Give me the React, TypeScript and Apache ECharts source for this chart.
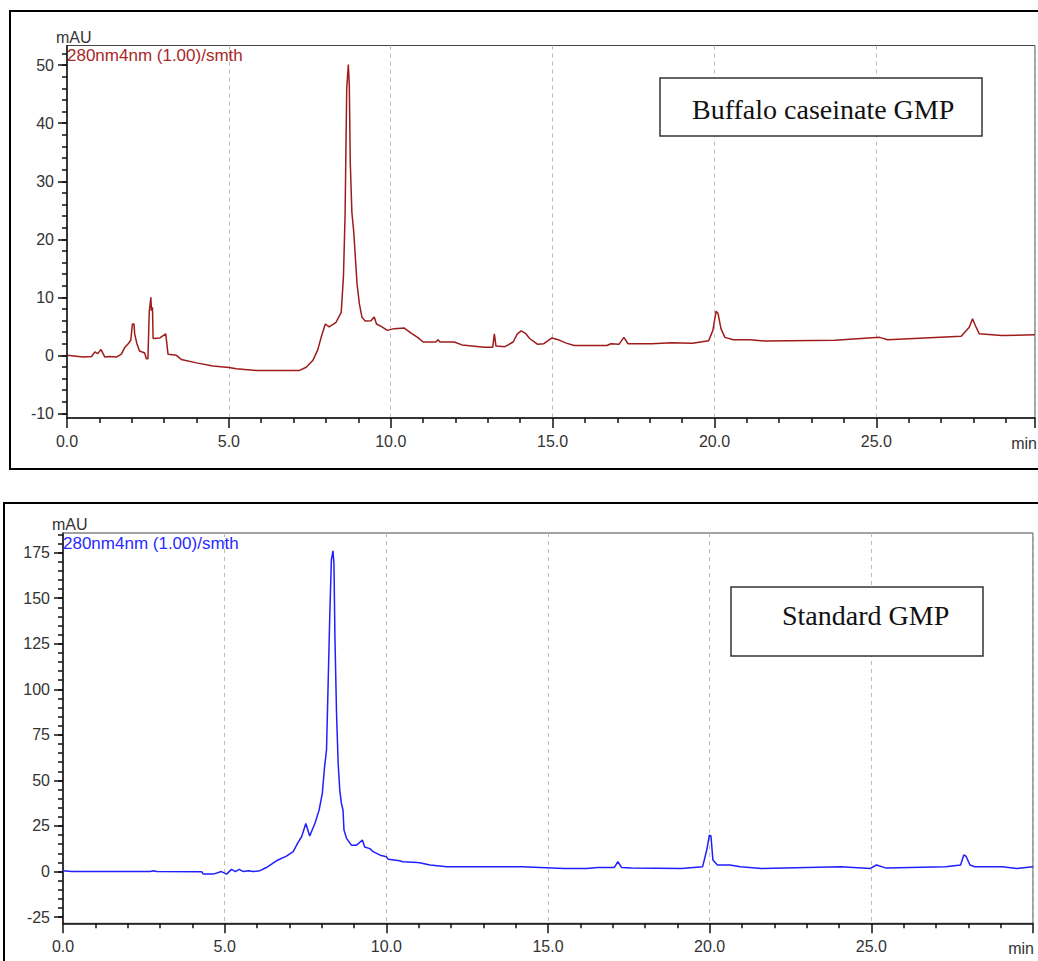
import React, { useEffect, useRef } from "react";
import * as echarts from "echarts";

// ---------- data ----------
const xTickLabels = ["0.0", "5.0", "10.0", "15.0", "20.0", "25.0"];

const caseinateYTicks = [-10, 0, 10, 20, 30, 40, 50];
const caseinateYMinor = [-10, -8, -6, -4, -2, 0, 2, 4, 6, 8, 10, 12, 14, 16, 18, 20, 22, 24, 26, 28, 30, 32, 34, 36, 38, 40, 42, 44, 46, 48, 50, 52];
const standardYTicks = [-25, 0, 25, 50, 75, 100, 125, 150, 175];
const standardYMinor = [-25, -20, -15, -10, -5, 0, 5, 10, 15, 20, 25, 30, 35, 40, 45, 50, 55, 60, 65, 70, 75, 80, 85, 90, 95, 100, 105, 110, 115, 120, 125, 130, 135, 140, 145, 150, 155, 160, 165, 170, 175, 180, 185];

const caseinateTime = [
  0, 0.5, 0.76, 0.86, 0.95, 1.05, 1.17, 1.3, 1.53, 1.68, 1.79, 1.89, 1.97, 2.02, 2.07, 2.09, 2.16, 2.24, 2.4, 2.45,
  2.5, 2.54, 2.59, 2.61, 2.64, 2.66, 2.87, 3.05, 3.12, 3.38, 3.53, 4.0, 4.51, 5.0, 5.23, 5.85, 7.18, 7.39, 7.59, 7.74,
  7.85, 7.98, 8.1, 8.31, 8.47, 8.54, 8.59, 8.64, 8.69, 8.72, 8.75, 8.8, 8.86, 8.91, 8.96, 9.03, 9.11, 9.21, 9.39, 9.49,
  9.56, 9.7, 9.9, 10.1, 10.42, 10.64, 10.83, 11.0, 11.39, 11.46, 11.52, 11.96, 12.2, 12.9, 13.15, 13.2, 13.25, 13.53, 13.78, 13.91,
  14.03, 14.16, 14.29, 14.54, 14.73, 14.98, 15.17, 15.42, 15.67, 16.68, 16.8, 17.05, 17.2, 17.33, 18.06, 18.67, 19.32, 19.82, 19.95, 20.05,
  20.11, 20.2, 20.32, 20.58, 21.1, 21.58, 23.72, 25.1, 25.35, 27.62, 27.87, 27.97, 28.06, 28.18, 28.87, 29.9,
];
const caseinateMAU = [
  0, -0.3, -0.2, 0.6, 0.3, 1.0, -0.3, -0.2, -0.3, 0.2, 1.4, 2.0, 2.6, 5.4, 5.4, 3.7, 2.0, 0.75, 0.4, -0.6,
  -0.6, 7.4, 10.0, 7.7, 8.3, 2.9, 3.0, 3.7, 0.2, 0.0, -0.7, -1.3, -1.85, -2.1, -2.3, -2.6, -2.6, -2.05, -0.9, 0.86,
  3.1, 5.4, 4.9, 5.7, 7.4, 13.7, 24.3, 46, 50.1, 46.6, 33.2, 24.6, 21.1, 16.6, 12.3, 8.9, 6.6, 5.9, 5.95, 6.6,
  5.4, 5.0, 4.3, 4.6, 4.7, 3.8, 3.1, 2.3, 2.3, 2.7, 2.3, 2.3, 1.8, 1.4, 1.4, 3.7, 1.6, 1.5, 2.3, 3.7,
  4.2, 3.8, 2.9, 1.9, 2.0, 3.0, 2.7, 2.1, 1.7, 1.7, 2.0, 1.9, 3.1, 2.0, 2.0, 2.15, 2.1, 2.5, 4.3, 7.6,
  7.2, 4.6, 3.1, 2.7, 2.7, 2.45, 2.6, 3.1, 2.7, 3.3, 4.85, 6.3, 5.1, 3.7, 3.4, 3.55,
];

const standardTime = [
  0, 0.27, 2.7, 2.79, 2.9, 4.29, 4.34, 4.65, 4.9, 5.06, 5.21, 5.33, 5.45, 5.58, 5.73, 5.88, 6.09, 6.29, 6.6, 6.91,
  7.12, 7.27, 7.38, 7.51, 7.63, 7.79, 7.92, 8.02, 8.09, 8.15, 8.2, 8.25, 8.3, 8.35, 8.38, 8.41, 8.46, 8.51, 8.56, 8.61,
  8.66, 8.69, 8.77, 8.92, 9.08, 9.26, 9.33, 9.49, 9.59, 9.81, 10.0, 10.06, 10.41, 10.51, 10.96, 11.03, 11.35, 11.87, 14.2, 15.5,
  16.2, 16.54, 17.05, 17.16, 17.28, 17.58, 19.13, 19.78, 19.91, 19.99, 20.04, 20.1, 20.24, 20.62, 20.95, 21.6, 24.06, 24.97, 25.16, 25.46,
  27.3, 27.76, 27.86, 27.93, 28.05, 28.2, 29.05, 29.5, 30.0,
];
const standardMAU = [
  0.4, 0, 0, 0.4, 0, -0.1, -1.4, -1.4, 0, -1.4, 1.2, 0, 1.2, 0, 0.4, 0, 0.5, 2.2, 5.9, 8.5,
  10.9, 16, 19.1, 26.4, 19.5, 26.4, 33.7, 42.9, 57.5, 66.7, 103, 139.8, 171, 176, 169, 128.9, 86.8, 59.4, 44.7, 37.4,
  33.8, 22.8, 18.2, 14.5, 14.5, 17.3, 13.5, 12.6, 10.9, 9.0, 8.1, 6.7, 5.9, 5.4, 4.9, 4.8, 3.6, 2.6, 2.6, 1.7,
  1.7, 2.2, 2.2, 5.4, 2.2, 1.9, 1.7, 2.6, 11.8, 20, 19.5, 6.3, 3.6, 3.6, 2.6, 1.7, 2.6, 1.7, 3.6, 1.9,
  2.6, 3.6, 9.1, 8.4, 3.6, 2.6, 2.6, 1.7, 2.6,
];

const channelLabel = "280nm4nm (1.00)/smth";
const yUnit = "mAU";
const xUnit = "min";
const caseinateTitle = "Buffalo caseinate GMP";
const standardTitle = "Standard GMP";

// ---------- styles ----------
const SANS = "Liberation Sans";
const SERIF = "Liberation Serif";
const AXIS = "#111";
const LABEL = "#333";
const RED = "#9e1b1b";
const RED_TEXT = "#a82828";
const BLUE = "#1f1fff";
const BLUE_TEXT = "#2a2aff";

const zip = (t: number[], v: number[]) => t.map((x, i) => [x, v[i]]);

const xLabelFormatter = (v: number) => {
  const s = v.toFixed(1);
  return xTickLabels.includes(s) && Math.abs(v - Math.round(v)) < 1e-6 ? s : "";
};

function makeX(gridIndex: number, max: number) {
  return {
    type: "value",
    gridIndex,
    min: 0,
    max,
    interval: 5,
    axisLine: { show: true, onZero: false, lineStyle: { color: AXIS, width: 1.5 } },
    axisTick: { show: true, length: 10, lineStyle: { color: AXIS, width: 1.5 } },
    minorTick: { show: true, splitNumber: 5, length: 5, lineStyle: { color: AXIS, width: 1.5 } },
    axisLabel: { formatter: xLabelFormatter, color: LABEL, fontSize: 16, fontFamily: SANS, margin: 15 },
    splitLine: { show: true, lineStyle: { color: "#bbbbbb", width: 1, type: [4, 4] } },
    minorSplitLine: { show: false },
  };
}

function makeYMajor(gridIndex: number, min: number, max: number, ticks: number[]) {
  return {
    type: "value",
    gridIndex,
    min,
    max,
    position: "left",
    axisLine: { show: true, onZero: false, lineStyle: { color: AXIS, width: 1.5 } },
    axisTick: { show: true, customValues: ticks, length: 9, lineStyle: { color: AXIS, width: 1.5 } },
    axisLabel: {
      show: true,
      customValues: ticks,
      color: LABEL,
      fontSize: 16,
      fontFamily: SANS,
      margin: 13,
      formatter: (v: number) => String(v),
    },
    splitLine: { show: false },
  };
}

function makeYMinor(gridIndex: number, min: number, max: number, ticks: number[]) {
  return {
    type: "value",
    gridIndex,
    min,
    max,
    position: "left",
    axisLine: { show: false, onZero: false },
    axisTick: { show: true, customValues: ticks, length: 5, lineStyle: { color: AXIS, width: 1.5 } },
    axisLabel: { show: false },
    splitLine: { show: false },
  };
}

export default function App() {
  const ref = useRef<HTMLDivElement>(null);

  useEffect(() => {
    if (!ref.current) return;
    const chart = echarts.init(ref.current, undefined, { renderer: "svg" });
    chart.setOption({
      animation: false,
      backgroundColor: "#ffffff",
      grid: [
        { left: 67, top: 45.5, width: 969.7, height: 372.5, show: true, borderColor: "#444", borderWidth: 1, backgroundColor: "#fff" },
        { left: 63, top: 533, width: 970, height: 390.3, show: true, borderColor: "#444", borderWidth: 1, backgroundColor: "#fff" },
      ],
      xAxis: [makeX(0, 29.9), makeX(1, 30)],
      yAxis: [
        makeYMajor(0, -10.8, 53.4, caseinateYTicks),
        makeYMinor(0, -10.8, 53.4, caseinateYMinor),
        makeYMajor(1, -28.4, 185.8, standardYTicks),
        makeYMinor(1, -28.4, 185.8, standardYMinor),
      ],
      series: [
        {
          type: "line",
          xAxisIndex: 0,
          yAxisIndex: 0,
          data: zip(caseinateTime, caseinateMAU),
          showSymbol: false,
          lineStyle: { color: RED, width: 1.5 },
          itemStyle: { color: RED },
        },
        {
          type: "line",
          xAxisIndex: 1,
          yAxisIndex: 2,
          data: zip(standardTime, standardMAU),
          showSymbol: false,
          lineStyle: { color: BLUE, width: 1.5 },
          itemStyle: { color: BLUE },
        },
      ],
      graphic: [
        // outer frames
        { type: "rect", shape: { x: 10, y: 11, width: 1100, height: 458 }, style: { fill: "none", stroke: "#000", lineWidth: 2 }, z: 50 },
        { type: "rect", shape: { x: 4, y: 503, width: 1100, height: 500 }, style: { fill: "none", stroke: "#000", lineWidth: 2 }, z: 50 },
        // unit labels
        { type: "text", x: 56, y: 29, style: { text: yUnit, fontSize: 16, fontFamily: SANS, fill: LABEL, verticalAlign: "top" }, z: 60 },
        { type: "text", x: 52, y: 516, style: { text: yUnit, fontSize: 16, fontFamily: SANS, fill: LABEL, verticalAlign: "top" }, z: 60 },
        { type: "text", x: 1037, y: 443, style: { text: xUnit, fontSize: 16, fontFamily: SANS, fill: LABEL, align: "right", verticalAlign: "middle" }, z: 60 },
        { type: "text", x: 1034, y: 948, style: { text: xUnit, fontSize: 16, fontFamily: SANS, fill: LABEL, align: "right", verticalAlign: "middle" }, z: 60 },
        // channel labels
        { type: "text", x: 67, y: 47, style: { text: channelLabel, fontSize: 17, fontFamily: SANS, fill: RED_TEXT, verticalAlign: "top" }, z: 60 },
        { type: "text", x: 63, y: 535, style: { text: channelLabel, fontSize: 17, fontFamily: SANS, fill: BLUE_TEXT, verticalAlign: "top" }, z: 60 },
        // title boxes
        { type: "rect", shape: { x: 660, y: 78, width: 322, height: 58 }, style: { fill: "#fff", stroke: "#333", lineWidth: 1.5 }, z: 70 },
        { type: "text", x: 692, y: 109, style: { text: caseinateTitle, fontSize: 28, fontFamily: SERIF, fill: "#111", verticalAlign: "middle" }, z: 71 },
        { type: "rect", shape: { x: 731, y: 587, width: 252, height: 69 }, style: { fill: "#fff", stroke: "#333", lineWidth: 1.5 }, z: 70 },
        { type: "text", x: 782, y: 615, style: { text: standardTitle, fontSize: 28, fontFamily: SERIF, fill: "#111", verticalAlign: "middle" }, z: 71 },
      ],
    });
    return () => chart.dispose();
  }, []);

  return (
    <div
      ref={ref}
      style={{ position: "absolute", left: 0, top: 0, width: 1038, height: 961, background: "#fff" }}
    />
  );
}
